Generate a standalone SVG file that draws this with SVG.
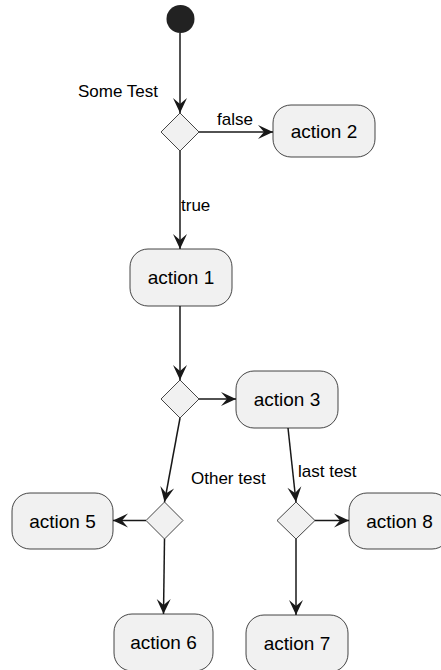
<svg xmlns="http://www.w3.org/2000/svg" width="441" height="670" viewBox="0 0 441 670">
<defs>
<style>
.box{fill:#F1F1F1;stroke:#181818;stroke-width:0.8}
.dia{fill:#F1F1F1;stroke:#181818;stroke-width:0.8}
.t{font-family:"Liberation Sans",Arial,sans-serif;font-size:19px;fill:#000;text-anchor:middle}
.lbl{font-family:"Liberation Sans",Arial,sans-serif;font-size:17px;fill:#000}
.edge{fill:none;stroke:#181818;stroke-width:1.5;marker-end:url(#arr)}
</style>
<marker id="arr" viewBox="-1 -8 17 16" refX="15" refY="0" markerWidth="17" markerHeight="16" markerUnits="userSpaceOnUse" orient="auto">
<path d="M0,-7 L15,0 L0,7 L6,0 z" fill="#181818"/>
</marker>
</defs>
<rect width="441" height="670" fill="#FFFFFF"/>
<g id="connectors">
<line class="edge" x1="180" y1="33" x2="180" y2="113"/>
<line class="edge" x1="199" y1="132" x2="273" y2="132"/>
<line class="edge" x1="180" y1="151" x2="180" y2="249"/>
<line class="edge" x1="180" y1="306" x2="180" y2="380"/>
<line class="edge" x1="199" y1="399" x2="236" y2="399"/>
<line class="edge" x1="180" y1="418" x2="164.5" y2="502"/>
<line class="edge" x1="146" y1="520.5" x2="113" y2="520.5"/>
<line class="edge" x1="164.5" y1="539" x2="163.5" y2="614"/>
<line class="edge" x1="288" y1="428" x2="296" y2="502"/>
<line class="edge" x1="315" y1="520.5" x2="349" y2="520.5"/>
<line class="edge" x1="296" y1="539" x2="296" y2="615"/>
<text class="lbl" x="78" y="97">Some Test</text>
<text class="lbl" x="217" y="125">false</text>
<text class="lbl" x="181" y="211">true</text>
<text class="lbl" x="191" y="484">Other test</text>
<text class="lbl" x="298" y="477">last test</text>
</g>
<g id="start"><circle cx="180.5" cy="19" r="14" fill="#222222"/></g>
<g id="if1"><polygon class="dia" points="180,113 199,132 180,151 161,132"/></g>
<g id="action2"><rect class="box" x="273" y="105" width="102" height="52" rx="18"/><text class="t" x="324" y="138">action 2</text></g>
<g id="action1"><rect class="box" x="130" y="249" width="102" height="57" rx="18"/><text class="t" x="181" y="284">action 1</text></g>
<g id="if2"><polygon class="dia" points="180,380 199,399 180,418 161,399"/></g>
<g id="action3"><rect class="box" x="236" y="371" width="102" height="57" rx="18"/><text class="t" x="287" y="406">action 3</text></g>
<g id="if3"><polygon class="dia" points="164.5,502 183,520.5 164.5,539 146,520.5"/></g>
<g id="action5"><rect class="box" x="12" y="493" width="101" height="56" rx="18"/><text class="t" x="62.5" y="528">action 5</text></g>
<g id="action6"><rect class="box" x="114" y="614" width="99" height="57" rx="18"/><text class="t" x="163.5" y="649">action 6</text></g>
<g id="if4"><polygon class="dia" points="296,502 315,520.5 296,539 277,520.5"/></g>
<g id="action8"><rect class="box" x="349" y="493" width="101" height="56" rx="18"/><text class="t" x="399.5" y="528">action 8</text></g>
<g id="action7"><rect class="box" x="246" y="615" width="102" height="57" rx="18"/><text class="t" x="297" y="650">action 7</text></g>
</svg>
